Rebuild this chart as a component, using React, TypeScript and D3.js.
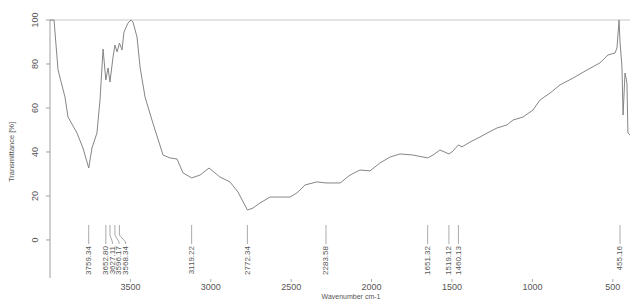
import React, { useEffect, useRef } from 'react';
import * as d3 from 'd3';

// spectrum (wavenumber cm-1, transmittance %)
const wavenumber = [
  4000, 3975, 3950, 3907, 3888, 3832, 3795, 3759, 3739, 3708, 3689, 3670, 3653, 3639, 3627, 3608,
  3596, 3583, 3568, 3552, 3540, 3515, 3496, 3484, 3459, 3440, 3409, 3366, 3297, 3254, 3210, 3173,
  3119, 3067, 3011, 2943, 2881, 2831, 2772, 2738, 2694, 2632, 2570, 2507, 2464, 2414, 2340, 2283,
  2196, 2134, 2072, 2010, 1948, 1885, 1823, 1742, 1680, 1651, 1618, 1575, 1519, 1500, 1460, 1438,
  1388, 1326, 1282, 1220, 1158, 1121, 1058, 996, 953, 890, 828, 747, 660, 580, 530, 486, 474, 461,
  455, 443, 436, 424, 412, 406, 393,
];
const transmittance = [
  100, 100, 77.3, 65, 55.9, 48.6, 41.8, 32.7, 41.8, 48.6, 63.6, 86.8, 72.7, 78.2, 71.8, 83.2,
  88.6, 85.5, 89.5, 86.4, 94.5, 98.6, 100, 99.1, 92.3, 78.6, 65, 54.5, 38.6, 37.3, 36.8, 30.5,
  28.2, 29.5, 32.7, 28.6, 26.4, 21.8, 13.6, 14.5, 16.8, 19.5, 19.5, 19.5, 21.4, 25, 26.4, 25.9,
  25.9, 29.5, 31.8, 31.4, 35, 37.7, 39.1, 38.6, 37.7, 37.3, 38.6, 40.9, 39.1, 40, 43.2, 42.3,
  44.5, 46.8, 48.6, 50.9, 52.3, 54.5, 55.9, 59.1, 63.6, 66.8, 70.5, 73.6, 77.3, 80.5, 84.1, 85, 87.3, 100,
  90, 78.6, 56.8, 75.9, 71.4, 48.6, 47.7,
];

const peakWn = [3759.34, 3652.8, 3627.11, 3596.17, 3568.34, 3119.22, 2772.34, 2283.58, 1651.32, 1519.12, 1460.13, 455.16];
const peakLabels = ['3759.34', '3652.80', '3627.11', '3596.17', '3568.34', '3119.22', '2772.34', '2283.58', '1651.32', '1519.12', '1460.13', '455.16'];

const xTicks = [3500, 3000, 2500, 2000, 1500, 1000, 500];
const yTicks = [100, 80, 60, 40, 20, 0];

const W = 630;
const H = 300;
const font = '"Liberation Sans", Arial, sans-serif';

export default function App() {
  const ref = useRef<SVGSVGElement>(null);

  useEffect(() => {
    const svg = d3.select(ref.current);
    svg.selectAll('*').remove();

    const left = 50, right = 630, top = 20, bottom = 278;
    const x = d3.scaleLinear().domain([4000, 393]).range([left, right]);
    const y = d3.scaleLinear().domain([-17.3, 100]).range([bottom, top]);

    // line at 100 %
    svg.append('line')
      .attr('x1', left).attr('x2', right)
      .attr('y1', y(100)).attr('y2', y(100))
      .attr('stroke', '#c8c8c8').attr('stroke-width', 1.2);

    // y axis
    svg.append('line')
      .attr('x1', left).attr('x2', left)
      .attr('y1', top).attr('y2', bottom)
      .attr('stroke', '#a0a0a0');
    const yt = svg.append('g');
    yTicks.forEach(t => {
      yt.append('line')
        .attr('x1', left - 4).attr('x2', left)
        .attr('y1', y(t)).attr('y2', y(t))
        .attr('stroke', '#a0a0a0');
      yt.append('text')
        .attr('transform', `translate(36, ${y(t)}) rotate(-90)`)
        .attr('text-anchor', 'middle')
        .attr('dominant-baseline', 'middle')
        .style('font-family', font)
        .style('font-size', '9px')
        .attr('fill', '#555')
        .text(t);
    });
    svg.append('text')
      .attr('transform', `translate(12, ${y(40)}) rotate(-90)`)
      .attr('text-anchor', 'middle')
      .attr('dominant-baseline', 'middle')
      .style('font-family', font)
      .style('font-size', '7.5px')
      .attr('fill', '#555')
      .text('Transmittance [%]');

    // x ticks (no axis line)
    xTicks.forEach(t => {
      svg.append('line')
        .attr('x1', x(t)).attr('x2', x(t))
        .attr('y1', 279).attr('y2', 282)
        .attr('stroke', '#aaa');
      svg.append('text')
        .attr('x', x(t)).attr('y', 290)
        .attr('text-anchor', 'middle')
        .style('font-family', font)
        .style('font-size', '9px')
        .attr('fill', '#555')
        .text(t);
    });
    svg.append('text')
      .attr('x', 351).attr('y', 299)
      .attr('text-anchor', 'middle')
      .style('font-family', font)
      .style('font-size', '7px')
      .attr('fill', '#555')
      .text('Wavenumber cm-1');

    // spectrum
    const pts = wavenumber.map((w, i) => [w, transmittance[i]] as [number, number]);
    svg.append('path')
      .attr('d', d3.line<[number, number]>().x(d => x(d[0])).y(d => y(d[1]))(pts))
      .attr('fill', 'none')
      .attr('stroke', '#858585')
      .attr('stroke-width', 1);

    // peak labels, spread apart where they crowd
    const px = peakWn.map(w => x(w));
    const lx: number[] = [];
    px.forEach((p, i) => {
      lx.push(i > 0 && p - lx[i - 1] < 6.6 ? lx[i - 1] + 6.6 : p);
    });
    const g = svg.append('g');
    px.forEach((p, i) => {
      g.append('path')
        .attr('d', `M${p},225 L${p},235 L${lx[i]},242 L${lx[i]},244`)
        .attr('fill', 'none')
        .attr('stroke', '#a0a0a0')
        .attr('stroke-width', 0.9);
      g.append('text')
        .attr('transform', `translate(${lx[i]}, 246) rotate(-90)`)
        .attr('text-anchor', 'end')
        .attr('dominant-baseline', 'middle')
        .style('font-family', font)
        .style('font-size', '8px')
        .attr('fill', '#555')
        .text(peakLabels[i]);
    });
  }, []);

  return (
    <svg ref={ref} width={W} height={H} style={{ position: 'absolute', left: 0, top: 0, background: '#fff' }} />
  );
}
